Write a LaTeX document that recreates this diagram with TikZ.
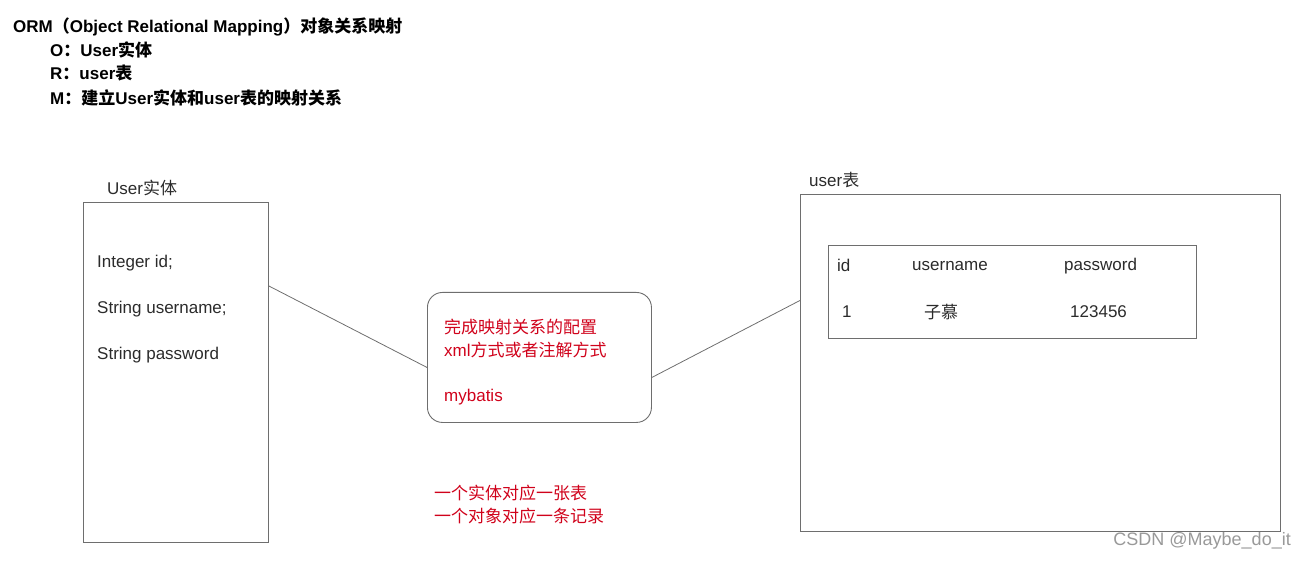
\documentclass[tikz,border=0pt]{standalone}
\usepackage{fontspec}
\setmainfont{Liberation Sans}
\newfontfamily\cjk{Noto Sans CJK SC}
\newcommand{\zh}[1]{{\cjk #1}}
\definecolor{redtxt}{HTML}{D0021B}
\definecolor{txt}{HTML}{2B2B2B}
\definecolor{edge}{HTML}{6E6E6E}
\begin{document}
\begin{tikzpicture}[x=1pt,y=-1pt,
  lbl/.style={anchor=west,inner sep=0pt,yshift=-1.5pt,text=txt,font=\fontsize{17}{20}\selectfont},
  redlbl/.style={anchor=west,inner sep=0pt,yshift=-1.5pt,text=redtxt,font=\fontsize{17}{20}\selectfont},
  boxx/.style={draw=edge,line width=0.9pt,anchor=north west,inner sep=0pt},
  conn/.style={draw=edge,line width=0.8pt}]
\useasboundingbox (0,0) rectangle (1307,561);
% header
\node[lbl,text=black,font=\fontsize{17}{20}\selectfont\bfseries] (t0) at (13,25) {ORM\zh{（}Object Relational Mapping\zh{）对象关系映射}};
\node[lbl,text=black,font=\fontsize{17}{20}\selectfont\bfseries] (t1) at (50,48) {O\zh{：}User\zh{实体}};
\node[lbl,text=black,font=\fontsize{17}{20}\selectfont\bfseries] (t2) at (50,72) {R\zh{：}user\zh{表}};
\node[lbl,text=black,font=\fontsize{17}{20}\selectfont\bfseries] (t3) at (50,96) {M\zh{：建立}User\zh{实体和}user\zh{表的映射关系}};
% left entity
\node[lbl] (lt) at (107,186) {User\zh{实体}};
\node[boxx,minimum width=185,minimum height=340] (L) at (83,202) {};
\node[lbl] (l1) at (97,262) {Integer id;};
\node[lbl] (l2) at (97,308) {String username;};
\node[lbl] (l3) at (97,354) {String password};
% middle
\node[boxx,rounded corners=15pt,minimum width=224,minimum height=130] (M) at (427,292) {};
\node[redlbl] (m1) at (444,326) {\zh{完成映射关系的配置}};
\node[redlbl] (m2) at (444,349) {xml\zh{方式或者注解方式}};
\node[redlbl] (m3) at (444,396) {mybatis};
\node[redlbl] (b1) at (434,492) {\zh{一个实体对应一张表}};
\node[redlbl] (b2) at (434,515) {\zh{一个对象对应一条记录}};
% right table
\node[lbl] (rt) at (809,179) {user\zh{表}};
\node[boxx,minimum width=480,minimum height=337] (T) at (800,194) {};
\node[boxx,minimum width=368,minimum height=93] (I) at (828,245) {};
\node[lbl,yshift=1.5pt] (h1) at (837,265) {id};
\node[lbl] (h2) at (912,265) {username};
\node[lbl] (h3) at (1064,265) {password};
\node[lbl,yshift=1pt] (d1) at (842,311) {1};
\node[lbl] (d2) at (924,311) {\zh{子慕}};
\node[lbl,yshift=1pt] (d3) at (1070,311) {123456};
% connectors
\draw[conn] ([yshift=-84pt]L.north east) -- ([yshift=-10pt]M.west);
\draw[conn] ([yshift=-20pt]M.east) -- ([yshift=62.5pt]T.west);
% watermark
\node[anchor=east,inner sep=0pt,text=black!40,font=\fontsize{18}{21}\selectfont] (wm) at (1291,541) {CSDN @Maybe\_do\_it};
\end{tikzpicture}
\end{document}
